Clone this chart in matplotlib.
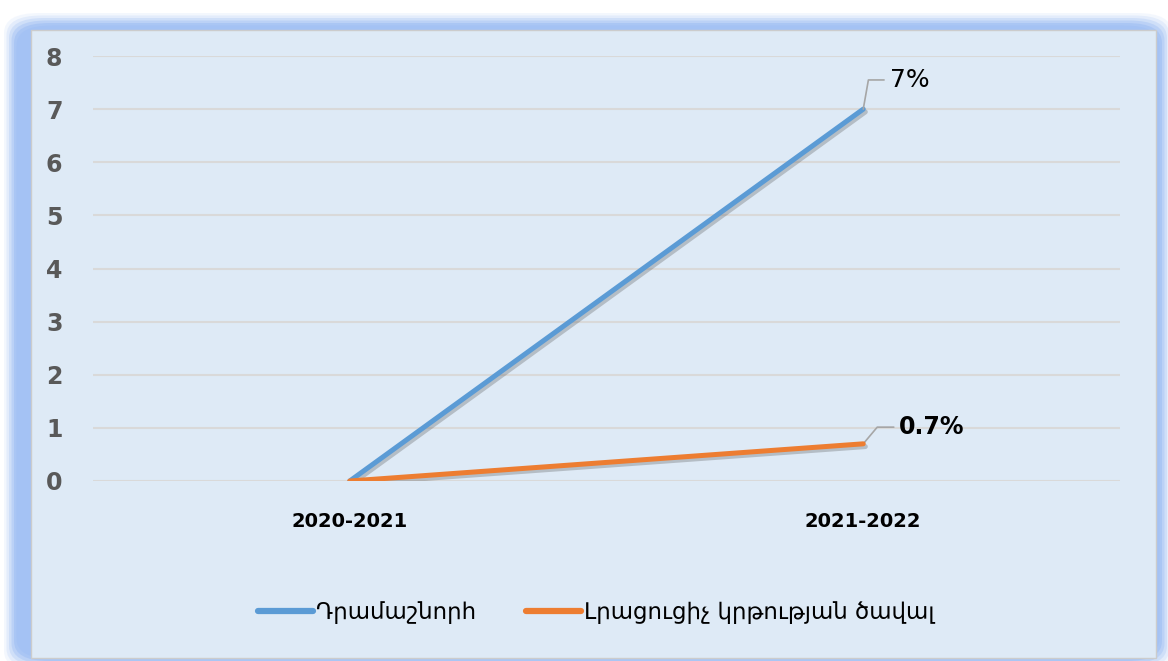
import matplotlib
matplotlib.use("Agg")
import matplotlib.pyplot as plt
import matplotlib.patheffects as pe
from matplotlib.patches import FancyBboxPatch, Rectangle

# data
years = ['2020-2021', '2021-2022']
grants = [0, 7]
extra_edu = [0, 0.7]
series_names = ['Դրամաշնորհ', 'Լրացուցիչ կրթության ծավալ']
end_labels = ['7%', '0.7%']
y_ticks = [0, 1, 2, 3, 4, 5, 6, 7, 8]

W, H = 1168, 661
fig = plt.figure(figsize=(W / 100, H / 100), dpi=100)
fig.patch.set_facecolor('white')

# soft blue glow frame behind the panel
for i, a in enumerate([0.12, 0.2, 0.3, 0.45, 0.7, 1.0]):
    g = 14 - i * 2.5
    box = FancyBboxPatch(((18 - g) / W, (4 - g) / H), (1140 + 2 * g) / W, (630 + 2 * g) / H,
                         boxstyle="round,pad=0,rounding_size=0.03",
                         transform=fig.transFigure, facecolor='#a4c2f4',
                         edgecolor='none', alpha=a, zorder=-3)
    fig.patches.append(box)

panel = Rectangle((31 / W, 3 / H), 1125 / W, 628 / H, transform=fig.transFigure,
                  facecolor='#deeaf6', edgecolor='#cccccc', lw=1, zorder=-2)
fig.patches.append(panel)

ax = fig.add_axes([93 / W, 1 - 481 / H, 1027 / W, 425 / H])
ax.set_facecolor('none')

x = list(range(len(years)))
shadow = [pe.SimpleLineShadow(offset=(1.5, -2), alpha=0.3, shadow_color='#555555'), pe.Normal()]
ax.plot(x, grants, color='#5b9bd5', lw=3.6, solid_capstyle='round', label=series_names[0],
        path_effects=shadow, zorder=3)
ax.plot(x, extra_edu, color='#ed7d31', lw=3.6, solid_capstyle='round', label=series_names[1],
        path_effects=shadow, zorder=4)

ax.set_xlim(-0.5, 1.5)
ax.set_ylim(0, 8)
ax.set_yticks(y_ticks)
ax.set_xticks(x)
ax.set_xticklabels(years, fontsize=14, fontweight='bold', color='black')
ax.tick_params(axis='y', length=0, pad=22, labelsize=17, labelcolor='#595959')
ax.tick_params(axis='x', length=0, pad=22)
for lab in ax.get_yticklabels():
    lab.set_fontweight('bold')
ax.grid(axis='y', color='#d9d9d9', lw=1.5)
ax.set_axisbelow(True)
for s in ax.spines.values():
    s.set_visible(False)

# end-point labels with leader lines
ax.annotate(end_labels[0], xy=(1, grants[1]), xytext=(19, 21), textcoords='offset points',
            fontsize=18, color='black', va='center', ha='left',
            arrowprops=dict(arrowstyle='-', color='#a6a6a6', lw=1.2, shrinkA=2, shrinkB=0,
                            connectionstyle='angle,angleA=0,angleB=80,rad=0'))
ax.annotate(end_labels[1], xy=(1, extra_edu[1]), xytext=(26, 12), textcoords='offset points',
            fontsize=17, fontweight='bold', color='black', va='center', ha='left',
            arrowprops=dict(arrowstyle='-', color='#a6a6a6', lw=1.2, shrinkA=2, shrinkB=0,
                            connectionstyle='angle,angleA=0,angleB=50,rad=0'))

leg = ax.legend(loc='center', bbox_to_anchor=(0.49, -0.31), ncol=2, frameon=False,
                fontsize=16.5, handlelength=2.4, handletextpad=0.1, columnspacing=2.2)
for h in leg.legend_handles:
    h.set_path_effects([])
    h.set_linewidth(4.5)

fig.savefig('out.png', dpi=100)
